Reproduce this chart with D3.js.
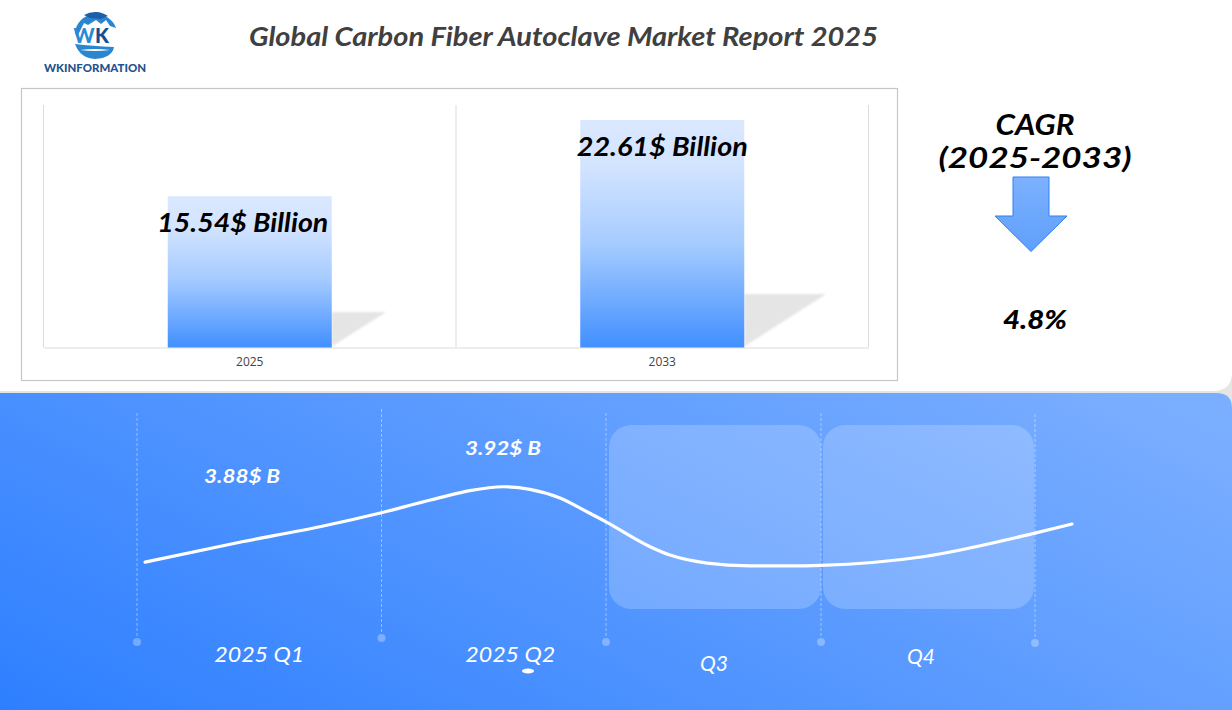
<!doctype html>
<html lang="en">

<head>
  <meta charset="utf-8">
  <title>Global Carbon Fiber Autoclave Market Report 2025</title>
  <script src="https://cdnjs.cloudflare.com/ajax/libs/d3/7.8.5/d3.min.js"></script>
  <style>
    body { margin: 0; overflow: hidden; background: #fff; }
    svg { display: block; }
    .hand { font-family: "Lato", "Open Sans", sans-serif; font-style: italic; }
    .tick text { font-family: "Open Sans", sans-serif; font-size: 12px; fill: #444; }
  </style>
</head>

<body>
  <script>
    // market size
    const years = ["2025", "2033"]
    const marketSize = [15.54, 22.61]
    const marketLabels = ["15.54$ Billion", "22.61$ Billion"]

    // cagr block
    const cagrLines = ["CAGR", "(2025-2033)"]
    const cagrValue = "4.8%"

    // quarterly curve, x is position in quarters from the start of 2025
    const quarters = ["2025 Q1", "2025 Q2", "Q3", "Q4"]
    const quarterEdges = [0, 1, 2, 3, 4]
    const curveAt = [0.033, 0.43, 0.748, 1, 1.26, 1.394, 1.541, 1.661, 1.795, 1.915, 2, 2.205, 2.298, 2.47, 2.67, 2.856, 3, 3.477, 4, 4.173]
    const curveValue = [3.8652, 3.88, 3.8909, 3.9011, 3.9121, 3.9172, 3.92, 3.9181, 3.9118, 3.9018, 3.8945, 3.8764, 3.8703, 3.8645, 3.8625, 3.8624, 3.8628, 3.8691, 3.8863, 3.8929]
    const labelledAt = [0.43, 1.541]
    const labelledValue = ["3.88$ B", "3.92$ B"]

    const W = 1232, H = 710

    const svg = d3.select("body").append("svg").attr("width", W).attr("height", H)
    const defs = svg.append("defs")

    const blue = defs.append("linearGradient").attr("id", "panelBlue")
      .attr("gradientUnits", "userSpaceOnUse")
      .attr("x1", 0).attr("y1", 710).attr("x2", 369).attr("y2", -4)
    blue.append("stop").attr("offset", 0).attr("stop-color", "#2e7fff")
    blue.append("stop").attr("offset", 1).attr("stop-color", "#7aaeff")

    const barFill = defs.append("linearGradient").attr("id", "barFill")
      .attr("x1", 0).attr("y1", 1).attr("x2", 0).attr("y2", 0)
    barFill.append("stop").attr("offset", 0).attr("stop-color", "#418fff")
    barFill.append("stop").attr("offset", 0.45).attr("stop-color", "#a5cbff")
    barFill.append("stop").attr("offset", 0.8).attr("stop-color", "#d3e4ff")
    barFill.append("stop").attr("offset", 1).attr("stop-color", "#dae8ff")

    const arrowFill = defs.append("linearGradient").attr("id", "arrowFill")
      .attr("x1", 0).attr("y1", 0).attr("x2", 0).attr("y2", 1)
    arrowFill.append("stop").attr("offset", 0).attr("stop-color", "#7cb1ff")
    arrowFill.append("stop").attr("offset", 1).attr("stop-color", "#5f9ffc")

    defs.append("filter").attr("id", "soft").append("feGaussianBlur").attr("stdDeviation", 0.8)

    // text helper, textLength keeps the widths of the handwritten original
    function hand(parent, str, x, y, size, width, color, weight) {
      return parent.append("text").attr("class", "hand")
        .attr("x", x).attr("y", y)
        .attr("text-anchor", "middle")
        .attr("textLength", width)
        .attr("lengthAdjust", "spacingAndGlyphs")
        .attr("font-size", size)
        .attr("font-weight", weight || 700)
        .attr("fill", color)
        .text(str)
    }

    // backgrounds
    svg.append("rect").attr("width", W).attr("height", H).attr("fill", "#e6e5e4")
    svg.append("path").attr("fill", "#fff")
      .attr("d", `M0,0H${W}V372Q${W},391 1213,391H0Z`)
    svg.append("path").attr("fill", "url(#panelBlue)")
      .attr("d", `M0,393H1216Q${W},393 ${W},408V${H}H0Z`)

    // title
    hand(svg, "Global Carbon Fiber Autoclave Market Report 2025", 563.5, 46, 27, 629, "#404040", 700)

    // logo
    const logo = svg.append("g")
    logo.append("path").attr("fill", "#2a86d0")
      .attr("d", "M75,33 A21,20 0 0 1 116,28 L110,26 L106,20 L101,24 L96,20 L88,25 L84,23 L80,31 L77,37Z")
    logo.append("path").attr("fill", "#1a5fa8")
      .attr("d", "M84,15 A21,20 0 0 1 108,16 L100,19 L90,18Z")
    logo.append("path").attr("fill", "#2a86d0")
      .attr("d", "M75,44 Q92,46 114,47 Q112,58 95,59 Q80,58 75,44Z")
    logo.append("path").attr("fill", "#fff")
      .attr("d", "M80,50 Q95,48 110,50 Q95,52 80,50Z")
    logo.append("text").attr("x", 84).attr("y", 43).attr("text-anchor", "middle")
      .attr("font-family", "Lato").attr("font-weight", 900).attr("font-size", 20).attr("fill", "#2a8ad6").text("W")
    logo.append("text").attr("x", 102).attr("y", 43).attr("text-anchor", "middle")
      .attr("font-family", "Lato").attr("font-weight", 900).attr("font-size", 20).attr("fill", "#14508f").text("K")
    logo.append("text").attr("x", 95).attr("y", 72).attr("text-anchor", "middle")
      .attr("font-family", "Lato").attr("font-weight", 900).attr("font-size", 11)
      .attr("textLength", 102).attr("lengthAdjust", "spacingAndGlyphs").attr("fill", "#1f5290").text("WKINFORMATION")

    // market size chart
    svg.append("rect").attr("x", 21.5).attr("y", 88.5).attr("width", 876).attr("height", 292)
      .attr("fill", "#fff").attr("stroke", "#c6c6c6").attr("stroke-width", 1.2)

    const plot = { left: 43.5, right: 868.5, top: 105, bottom: 347.5 }
    const x = d3.scaleBand().domain(years).range([plot.left, plot.right])
      .paddingInner(0.6024).paddingOuter(0.3012)
    const y = d3.scaleLinear().domain([1.5, 24]).range([plot.bottom, plot.top])
    const step = x.step()

    const edges = d3.range(years.length + 1).map(i => plot.left + i * step)
    svg.selectAll(".edge").data(edges).join("line").attr("class", "edge")
      .attr("x1", d => d).attr("x2", d => d)
      .attr("y1", plot.top).attr("y2", plot.bottom)
      .attr("stroke", "#dcdcdc")

    const xAxis = svg.append("g").attr("transform", `translate(0,${plot.bottom})`)
      .call(d3.axisBottom(x).tickSize(0).tickPadding(10))
    xAxis.select(".domain").attr("stroke", "#dcdcdc").attr("stroke-width", 1.2)

    // bar shadow falls to the right, scaled on the bar height
    svg.selectAll(".shadow").data(marketSize).join("polygon").attr("class", "shadow")
      .attr("points", (d, i) => {
        const r = x(years[i]) + x.bandwidth(), h = plot.bottom - y(d)
        return [[r, plot.bottom - 1], [r, plot.bottom - h * 0.235], [r + h * 0.36, plot.bottom - h * 0.235]].join(" ")
      })
      .attr("fill", "#e5e5e5").attr("filter", "url(#soft)")

    svg.selectAll(".bar").data(marketSize).join("rect").attr("class", "bar")
      .attr("x", (d, i) => x(years[i]))
      .attr("width", x.bandwidth())
      .attr("y", d => y(d))
      .attr("height", d => plot.bottom - y(d))
      .attr("fill", "url(#barFill)")

    marketSize.forEach((d, i) => {
      const cx = x(years[i]) + x.bandwidth() / 2 + (i === 0 ? -7 : 0)
      hand(svg, marketLabels[i], cx, y(d) + 36, 27, 171, "#000", 700)
    })

    // cagr block
    hand(svg, cagrLines[0], 1035, 135, 29, 79, "#000", 700)
    hand(svg, cagrLines[1], 1035, 168, 29, 193, "#000", 700)
    svg.append("polygon")
      .attr("points", "1013,177 1049,177 1049,216 1067,216 1031,251.5 995,216 1013,216")
      .attr("fill", "url(#arrowFill)").attr("stroke", "#2f80f5").attr("stroke-width", 1)
    hand(svg, cagrValue, 1035, 329, 26, 64, "#000", 900)

    // quarterly panel
    const q = d3.scaleLinear().domain(quarterEdges).range([137, 381.5, 606, 821, 1035])
    const v = d3.scaleLinear().domain([3.85, 3.95]).range([583, 445.5])

    const boxes = [[2, 3, 3, 0], [3, 4, 2, -1]]
    svg.selectAll(".qbox").data(boxes).join("rect").attr("class", "qbox")
      .attr("x", d => q(d[0]) + d[2])
      .attr("width", d => q(d[1]) + d[3] - q(d[0]) - d[2])
      .attr("y", 425).attr("height", 184).attr("rx", 22)
      .attr("fill", "#fff").attr("fill-opacity", 0.2)

    // small differences in the height of the guides
    const guideTop = [413, 409, 413, 413, 414]
    const guideDot = [642, 638, 642, 642, 643]

    svg.selectAll(".guide").data(quarterEdges).join("line").attr("class", "guide")
      .attr("x1", d => q(d)).attr("x2", d => q(d))
      .attr("y1", (d, i) => guideTop[i]).attr("y2", (d, i) => guideDot[i] - 6)
      .attr("stroke", "#fff").attr("stroke-opacity", 0.42)
      .attr("stroke-dasharray", "3 2")

    svg.selectAll(".dot").data(quarterEdges).join("circle").attr("class", "dot")
      .attr("cx", d => q(d)).attr("cy", (d, i) => guideDot[i]).attr("r", 4)
      .attr("fill", "#fff").attr("fill-opacity", 0.3)

    const line = d3.line()
      .x((d, i) => q(curveAt[i]))
      .y(d => v(d))
      .curve(d3.curveMonotoneX)

    svg.append("path").datum(curveValue)
      .attr("d", line)
      .attr("fill", "none").attr("stroke", "#fff")
      .attr("stroke-width", 3.2).attr("stroke-linecap", "round")

    // value labels sit above the curve
    const valueLift = [59, 32]
    labelledValue.forEach((t, i) => {
      const py = v(curveValue[curveAt.indexOf(labelledAt[i])])
      hand(svg, t, q(labelledAt[i]), py - valueLift[i], 19, 76, "#fff", 700)
    })

    const quarterNudge = [[0, 662], [16.5, 662], [0.5, 671], [-7, 664]]
    const quarterWidth = [90, 90, 28, 28]
    quarters.forEach((t, i) => {
      hand(svg, t, q(i + 0.5) + quarterNudge[i][0], quarterNudge[i][1], 21, quarterWidth[i], "#fff", 400)
    })

    svg.append("ellipse").attr("cx", 528).attr("cy", 671).attr("rx", 6).attr("ry", 2.5).attr("fill", "#fff")
  </script>
</body>

</html>
